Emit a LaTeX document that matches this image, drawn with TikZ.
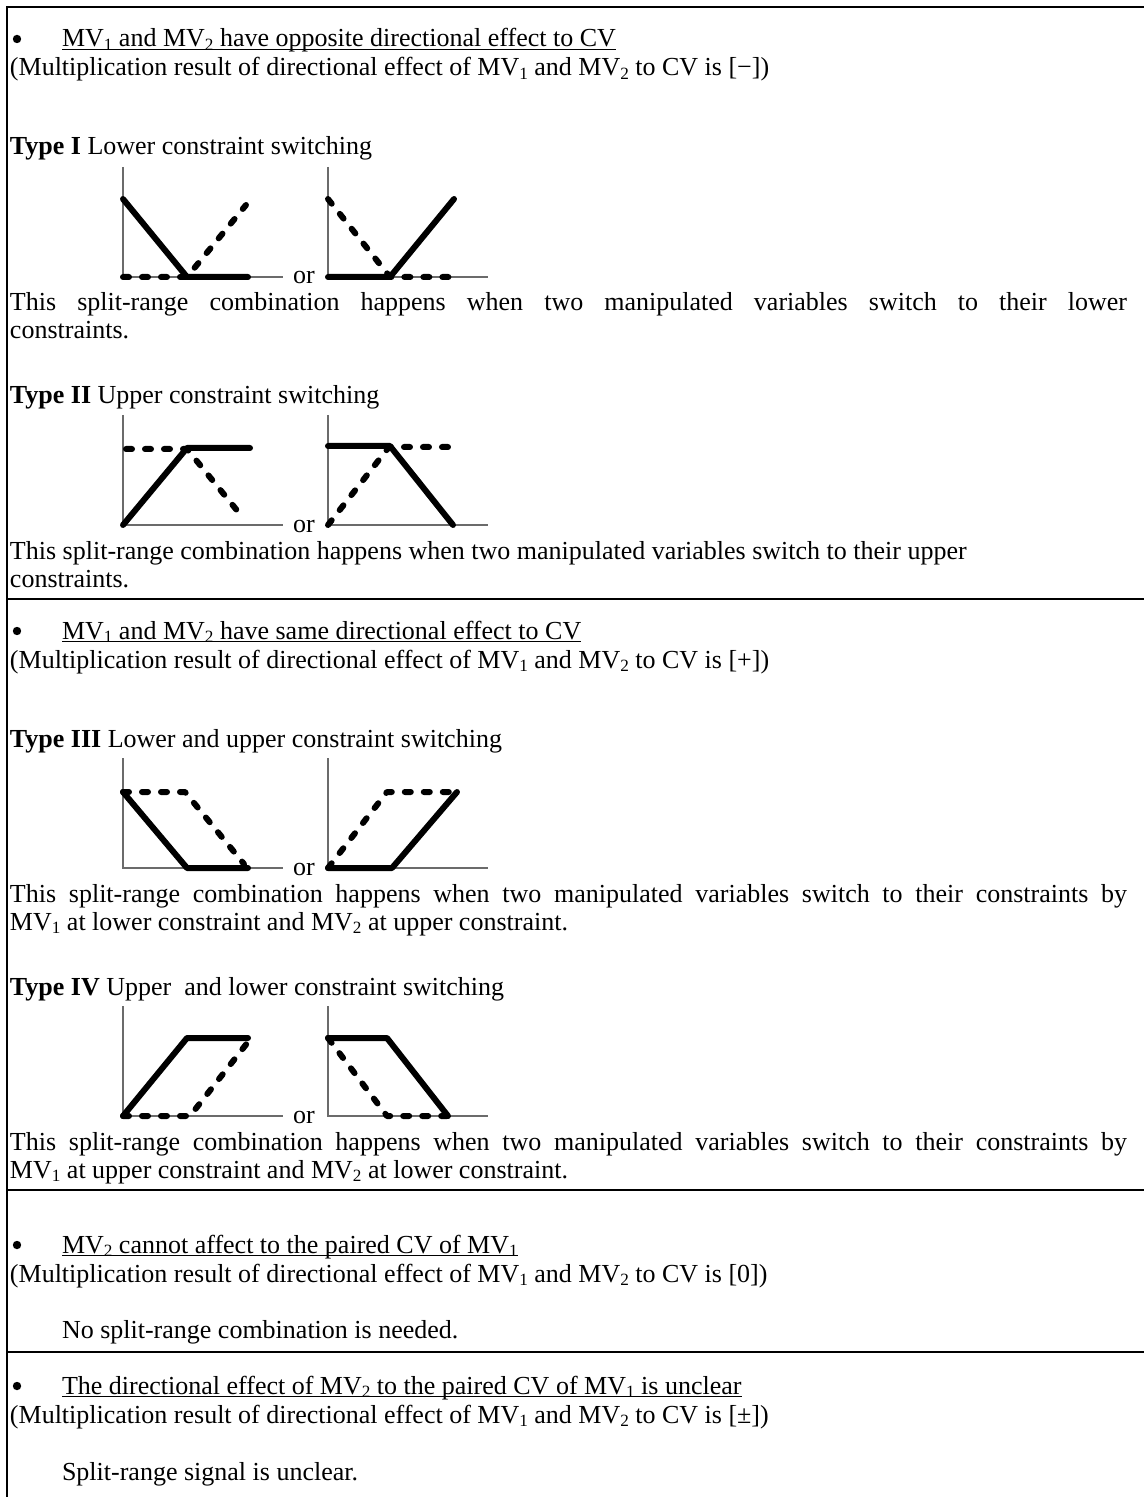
\documentclass[tikz,border=0pt]{standalone}
\usepackage{fontspec}
\setmainfont{Liberation Serif}
% subscript digit as set by a word processor: smaller and lowered
\newcommand\mvs[1]{\raisebox{-0.32ex}{\fontsize{8.6}{8.6}\selectfont #1}}
\newcommand\MVo{MV\mvs{1}}
\newcommand\MVt{MV\mvs{2}}
\newcommand\ulx[1]{\underline{\smash{#1}}}
\newcommand\fullline[1]{\makebox[558.5pt][s]{#1}}

\begin{document}
\begin{tikzpicture}[x=0.5pt,y=-0.5pt,
  txt/.style={anchor=base west, inner sep=0pt, outer sep=0pt, font=\fontsize{13}{15}\selectfont},
  bulletdot/.style={circle, fill=black, inner sep=0pt, minimum size=4.2pt},
  tablerule/.style={line width=1.15pt},
  axisline/.style={line width=0.65pt, draw=black!58},
  solidcurve/.style={line width=3pt, line cap=round, line join=round},
  dashcurve/.style={line width=3pt, line cap=round, line join=round, dash pattern=on 3pt off 6.5pt}]

\useasboundingbox (0,0) rectangle (1144,1497);

% table frame and row separators
\draw[tablerule] (7,1497) -- (7,7) -- (1144,7);
\draw[tablerule] (7,599) -- (1144,599);
\draw[tablerule] (7,1190) -- (1144,1190);
\draw[tablerule] (7,1352) -- (1144,1352);

% axes of one small split-range plot (origin at the axis corner, y up)
\newcommand\plotaxes{%
  \draw[axisline] (0,110) -- (0,0) -- (160,0);}

% ---------------- row 1 ----------------
\node[bulletdot] (b1) at (17,39) {};
\node[txt] (h1) at (62,47) {\ulx{\MVo{} and \MVt{} have opposite directional effect to CV}};
\node[txt] (m1) at (10,76) {(Multiplication result of directional effect of \MVo{} and \MVt{} to CV is [−])};

\node[txt] (t1) at (10,155) {\textbf{Type I} Lower constraint switching};
\begin{scope}[shift={(123,277)}, yscale=-1]
  \plotaxes
  \draw[dashcurve] (0,0) -- (64,0) -- (123,72);
  \draw[solidcurve] (0,78) -- (64,0) -- (125,0);
\end{scope}
\node[txt] (or1) at (293,284) {or};
\begin{scope}[shift={(328,277)}, yscale=-1]
  \plotaxes
  \draw[dashcurve] (0,78) -- (62,0) -- (122,0);
  \draw[solidcurve] (0,0) -- (62,0) -- (126,78);
\end{scope}
\node[txt] (d1) at (10,311) {\fullline{This split-range combination happens when two manipulated variables switch to their lower}};
\node[txt] (d1b) at (10,339) {constraints.};

\node[txt] (t2) at (10,404) {\textbf{Type II} Upper constraint switching};
\begin{scope}[shift={(123,525)}, yscale=-1]
  \plotaxes
  \draw[dashcurve] (3,76) -- (64,76) -- (121,6);
  \draw[solidcurve] (0,0) -- (64,77) -- (127,77);
\end{scope}
\node[txt] (or2) at (293,532) {or};
\begin{scope}[shift={(328,525)}, yscale=-1]
  \plotaxes
  \draw[dashcurve] (0,0) -- (61,78) -- (120,78);
  \draw[solidcurve] (0,79) -- (62,79) -- (125,0);
\end{scope}
\node[txt] (d2) at (10,559) {This split-range combination happens when two manipulated variables switch to their upper};
\node[txt] (d2b) at (10,587) {constraints.};

% ---------------- row 2 ----------------
\node[bulletdot] (b2) at (17,631) {};
\node[txt] (h2) at (62,639) {\ulx{\MVo{} and \MVt{} have same directional effect to CV}};
\node[txt] (m2) at (10,668) {(Multiplication result of directional effect of \MVo{} and \MVt{} to CV is [+])};

\node[txt] (t3) at (10,747) {\textbf{Type III} Lower and upper constraint switching};
\begin{scope}[shift={(123,868)}, yscale=-1]
  \plotaxes
  \draw[dashcurve] (0,76) -- (62,76) -- (121,4);
  \draw[solidcurve] (0,76) -- (64,0) -- (125,0);
\end{scope}
\node[txt] (or3) at (293,875) {or};
\begin{scope}[shift={(328,868)}, yscale=-1]
  \plotaxes
  \draw[dashcurve] (0,0) -- (59,76) -- (129,76);
  \draw[solidcurve] (0,0) -- (64,0) -- (129,76);
\end{scope}
\node[txt] (d3) at (10,902) {\fullline{This split-range combination happens when two manipulated variables switch to their constraints by}};
\node[txt] (d3b) at (10,930) {\MVo{} at lower constraint and \MVt{} at upper constraint.};

\node[txt] (t4) at (10,995) {\textbf{Type IV} Upper\ \ and lower constraint switching};
\begin{scope}[shift={(123,1116)}, yscale=-1]
  \plotaxes
  \draw[dashcurve] (0,0) -- (67,0) -- (125,74);
  \draw[solidcurve] (0,0) -- (64,78) -- (125,78);
\end{scope}
\node[txt] (or4) at (293,1123) {or};
\begin{scope}[shift={(328,1116)}, yscale=-1]
  \plotaxes
  \draw[dashcurve] (0,78) -- (59,0) -- (120,0);
  \draw[solidcurve] (0,78) -- (59,78) -- (120,0);
\end{scope}
\node[txt] (d4) at (10,1150) {\fullline{This split-range combination happens when two manipulated variables switch to their constraints by}};
\node[txt] (d4b) at (10,1178) {\MVo{} at upper constraint and \MVt{} at lower constraint.};

% ---------------- row 3 ----------------
\node[bulletdot] (b3) at (17,1245) {};
\node[txt] (h3) at (62,1253) {\ulx{\MVt{} cannot affect to the paired CV of \MVo}};
\node[txt] (m3) at (10,1282) {(Multiplication result of directional effect of \MVo{} and \MVt{} to CV is [0])};
\node[txt] (n3) at (62,1338) {No split-range combination is needed.};

% ---------------- row 4 ----------------
\node[bulletdot] (b4) at (17,1386) {};
\node[txt] (h4) at (62,1394) {\ulx{The directional effect of \MVt{} to the paired CV of \MVo{} is unclear}};
\node[txt] (m4) at (10,1423) {(Multiplication result of directional effect of \MVo{} and \MVt{} to CV is [±])};
\node[txt] (n4) at (62,1480) {Split-range signal is unclear.};
\end{tikzpicture}
\end{document}
